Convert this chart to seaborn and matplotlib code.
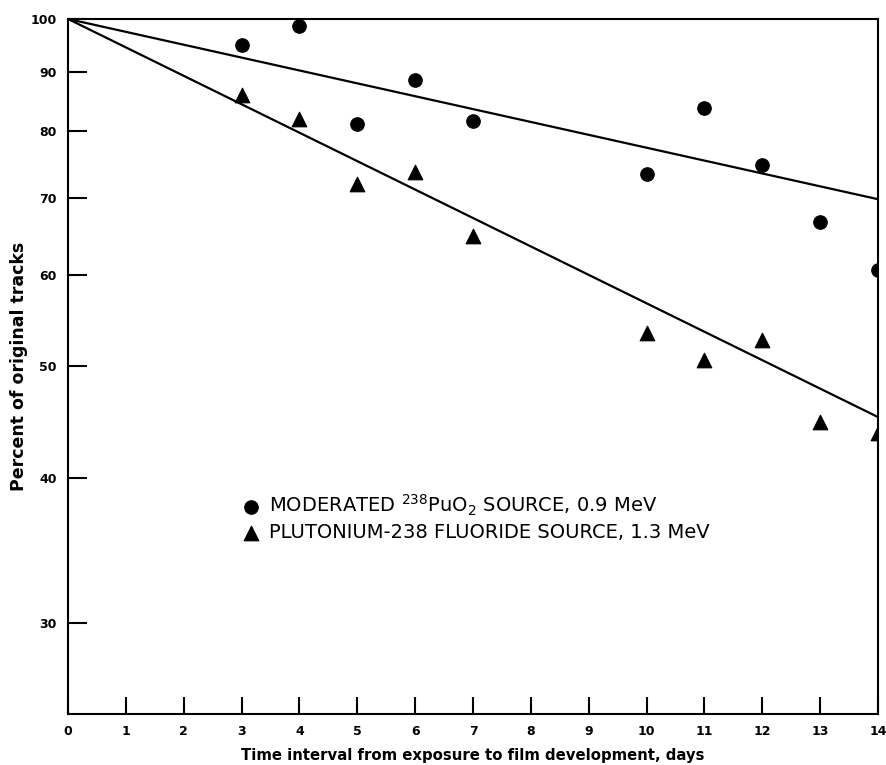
import numpy as np
import pandas as pd
import matplotlib
matplotlib.use("Agg")
import matplotlib.pyplot as plt
import seaborn as sns

# Datos
days = [3, 4, 5, 6, 7, 10, 11, 12, 13, 14]
moderated_pct = [95.0, 98.6, 81.1, 88.5, 81.6, 73.4, 83.7, 74.7, 66.7, 60.6]
fluoride_pct = [85.9, 81.9, 71.9, 73.7, 64.8, 53.4, 50.6, 52.7, 44.8, 43.8]

# Rectas ajustadas (extremos)
fit_days = [0, 14]
moderated_fit = [100, 69.8]
fluoride_fit = [100, 45.2]

x_ticks = list(range(0, 15))
y_ticks = [30, 40, 50, 60, 70, 80, 90, 100]

label_mod = r"MODERATED $^{238}$PuO$_2$ SOURCE, 0.9 MeV"
label_flu = "PLUTONIUM-238 FLUORIDE SOURCE, 1.3 MeV"

sns.set_style("white")
plt.rcParams['font.family'] = ['DejaVu Sans']
plt.rcParams['text.color'] = 'black'
plt.rcParams['axes.labelcolor'] = 'black'
plt.rcParams['xtick.color'] = 'black'
plt.rcParams['ytick.color'] = 'black'

fig = plt.figure(figsize=(8.87, 7.65), dpi=100)
ax = fig.add_axes([0.0767, 0.0667, 0.9132, 0.9085])

sns.lineplot(x=fit_days, y=moderated_fit, color="black", linewidth=1.6, ax=ax)
sns.lineplot(x=fit_days, y=fluoride_fit, color="black", linewidth=1.6, ax=ax)

sns.scatterplot(x=days, y=moderated_pct, marker="o", s=95, color="black",
                edgecolor="black", label=label_mod, ax=ax, zorder=3)
sns.scatterplot(x=days, y=fluoride_pct, marker="^", s=110, color="black",
                edgecolor="black", label=label_flu, ax=ax, zorder=3)

ax.set_yscale("log")
ax.set_ylim(25, 100)
ax.set_xlim(0, 14)
ax.set_yticks(y_ticks)
ax.set_yticklabels([str(v) for v in y_ticks])
ax.yaxis.set_minor_locator(matplotlib.ticker.NullLocator())
ax.set_xticks(x_ticks)
ax.set_xticklabels([str(v) for v in x_ticks])

ax.tick_params(axis="y", direction="in", length=14, width=1.5, pad=8,
               labelsize=9, left=True)
ax.tick_params(axis="x", direction="in", length=12, width=1.5, pad=8,
               labelsize=9, bottom=True)
for lbl in ax.get_xticklabels() + ax.get_yticklabels():
    lbl.set_fontweight("bold")

for sp in ax.spines.values():
    sp.set_linewidth(1.5)
    sp.set_color("black")

ax.set_xlabel("Time interval from exposure to film development, days",
              fontsize=10.7, fontweight="bold", labelpad=7)
ax.set_ylabel("Percent of original tracks", fontsize=12.5, fontweight="bold",
              labelpad=2)

ax.legend(loc="upper left", bbox_to_anchor=(0.206, 0.33), frameon=False,
          fontsize=14, handletextpad=0.45, labelspacing=0.3,
          borderaxespad=0, handlelength=0.9)

fig.savefig("out.png", dpi=100)
